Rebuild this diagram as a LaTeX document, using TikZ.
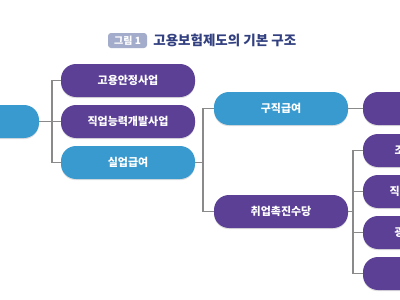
\documentclass[tikz,border=0pt]{standalone}
\usepackage{fontspec}
\newfontfamily\krfont{Noto Sans CJK KR}
\usetikzlibrary{shadows, positioning, calc}
\definecolor{boxpurple}{RGB}{91,64,150}
\definecolor{boxblue}{RGB}{56,154,207}
\definecolor{linkgray}{RGB}{138,138,138}
\definecolor{titlenavy}{RGB}{50,64,128}
\definecolor{badgegray}{RGB}{163,172,202}

\begin{document}
\begin{tikzpicture}[x=1pt, y=-1pt,
    branch/.style={rectangle, rounded corners=15pt, minimum width=134pt, minimum height=33pt,
        inner sep=0pt, text=white, font=\krfont\bfseries\fontsize{11}{12}\selectfont,
        drop shadow={shadow xshift=0pt, shadow yshift=-1.2pt, opacity=0.25}},
    purplebox/.style={branch, fill=boxpurple},
    bluebox/.style={branch, fill=boxblue},
    link/.style={draw=linkgray, line width=1.4pt}]
    \useasboundingbox (0,0) rectangle (400,300);
    \clip (0,0) rectangle (400,300);
    \fill[white] (0,0) rectangle (400,300);

    % title
    \node[fill=badgegray, rounded corners=3pt, minimum width=39pt, minimum height=15pt, inner sep=0pt,
        text=white, font=\krfont\bfseries\fontsize{10}{11}\selectfont] (badge) at (127.5,40.5) {그림 1};
    \node[right=6pt of badge, inner sep=0pt, text=titlenavy,
        font=\krfont\bfseries\fontsize{13.5}{15}\selectfont] (title) {고용보험제도의 기본 구조};

    % first level
    \node[bluebox] (root) at (-28,121.5) {고용보험};
    \node[purplebox] (stable) at (128,80.5) {고용안정사업};
    \node[purplebox] (skill) at (128,121.5) {직업능력개발사업};
    \node[bluebox] (benefit) at (128,162.5) {실업급여};

    % second level
    \node[bluebox] (jobseek) at (281,108.5) {구직급여};
    \node[purplebox] (promote) at (281,211.5) {취업촉진수당};

    % third level
    \node[purplebox] (extend) at (430,108.5) {연장급여};
    \node[purplebox] (early) at (430,150.5) {조기재취업수당};
    \node[purplebox] (train) at (430,191.5) {직업능력개발수당};
    \node[purplebox] (wide) at (430,232.5) {광역구직활동비};
    \node[purplebox] (move) at (430,273.5) {이주비};

    \coordinate (splitA) at ($(stable.west)+(-9,0)$);
    \coordinate (splitB) at ($(jobseek.west)+(-11,0)$);
    \coordinate (splitC) at ($(early.west)+(-10,0)$);

    \draw[link] (root.east) -- (skill.west);
    \draw[link] (stable.west) -- (splitA) |- (benefit.west);

    \draw[link] (benefit.east) -- (benefit.east -| splitB);
    \draw[link] (jobseek.west) -- (splitB) |- (promote.west);
    \draw[link] (jobseek.east) -- (extend.west);

    \draw[link] (promote.east) -- (promote.east -| splitC);
    \draw[link] (early.west) -- (splitC) |- (move.west);
    \draw[link] (train.west) -- (train.west -| splitC);
    \draw[link] (wide.west) -- (wide.west -| splitC);
\end{tikzpicture}
\end{document}
